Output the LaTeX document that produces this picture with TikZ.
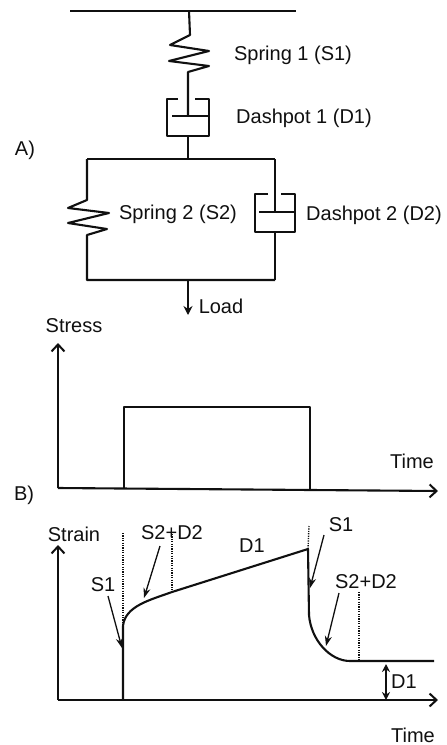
\documentclass[tikz,border=0pt]{standalone}
\usepackage{fontspec}
\setmainfont{Liberation Sans}
\usetikzlibrary{arrows.meta}
\definecolor{ink}{HTML}{101010}
\tikzset{
  lab/.style={text=ink,inner sep=0pt,font=\fontsize{20}{22}\selectfont},
  line/.style={draw=ink,line width=2.1pt,line join=round},
  thin line/.style={draw=ink,line width=1.3pt},
  axis/.style={line,-{Straight Barb[length=7pt,width=13pt,line width=2pt]}},
  pointer/.style={thin line,-{Stealth[length=10pt,width=7pt]}},
  guide/.style={draw=ink,line width=1.4pt,dash pattern=on 1.2pt off 1.2pt},
  every picture/.style={x=1pt,y=-1pt}
}
\begin{document}
\begin{tikzpicture}
\useasboundingbox (0,0) rectangle (447,745);
\fill[white] (0,0) rectangle (447,745);
% labels
\node[lab] (ls1) at (293,55) {Spring 1 (S1)};
\node[lab] (ld1) at (304,118) {Dashpot 1 (D1)};
\node[lab] (ls2) at (178,214) {Spring 2 (S2)};
\node[lab] (ld2) at (374,215) {Dashpot 2 (D2)};
\node[lab] (la) at (25,150) {A)};
\node[lab] (lload) at (221,306) {Load};
\node[lab] (lstress) at (74,326) {Stress};
\node[lab] (ltime1) at (412,461) {Time};
\node[lab] (lb) at (24,495) {B)};
\node[lab] (lstrain) at (74,534) {Strain};
\node[lab] (s1a) at (103,585) {S1};
\node[lab] (sda) at (172,533) {S2+D2};
\node[lab] (d1a) at (252,546) {D1};
\node[lab] (s1b) at (341,525) {S1};
\node[lab] (sdb) at (366,582) {S2+D2};
\node[lab] (d1b) at (404,682) {D1};
\node[lab] (ltime2) at (413,735) {Time};
% mechanical model
\coordinate (barL) at (70,11); \coordinate (barR) at (296,11);
\coordinate (barM) at (189,11);
\coordinate (fL) at (87,159); \coordinate (fR) at (275,159); \coordinate (fM) at (188,159);
\coordinate (bL) at (87,280); \coordinate (bR) at (275,280); \coordinate (bM) at (188,280);
\coordinate (loadEnd) at (188,315);
\draw[line,line width=2.3pt] (barL) -- (barR);
\draw[line] (barM) -- (190,35) -- (170,45) -- (209,51) -- (169,61) -- (209,66) -- (188,72) -- (188,116);
\draw[line] (178,99) -- (167,99) -- (167,136) -- (209,136) -- (209,99) -- (195,99);
\draw[line] (172,116) -- (209,116);
\draw[line] (188,136) -- (fM);
\draw[line] (fL) -- (fR);
\draw[line] (fL) -- (87,200) -- (68,208) -- (109,213) -- (68,223) -- (107,229) -- (87,235) -- (bL) -- (bR);
\draw[line] (fR) -- (275,212);
\draw[line] (268,194) -- (255,194) -- (255,232) -- (295,232) -- (295,194) -- (281,194);
\draw[line] (259,212) -- (295,212);
\draw[line] (275,232) -- (bR);
\draw[line,-{Stealth[length=9pt,width=9pt]}] (bM) -- (loadEnd);
% stress plot
\coordinate (o1) at (58,488); \coordinate (y1) at (58,343); \coordinate (x1) at (438,491);
\coordinate (p1) at (124,488); \coordinate (p2) at (124,407); \coordinate (p3) at (310,407); \coordinate (p4) at (310,490);
\draw[axis] (o1) -- (y1);
\draw[axis] (o1) -- (x1);
\draw[line] (p1) -- (p2) -- (p3) -- (p4);
% strain plot
\coordinate (o2) at (58,700); \coordinate (y2) at (58,545); \coordinate (x2) at (438,700);
\coordinate (c0) at (123,700); \coordinate (c1) at (123,626); \coordinate (c2) at (172,592);
\coordinate (c3) at (308,549); \coordinate (c4) at (309,615); \coordinate (c5) at (359,661); \coordinate (c6) at (434,661);
\draw[axis] (o2) -- (y2);
\draw[axis] (o2) -- (x2);
\draw[line] (c0) -- (c1) .. controls (125,606) and (150,600) .. (c2) -- (c3) -- (c4) .. controls (311,640) and (330,661) .. (350,661) -- (c6);
\coordinate (g1) at (123,533); \coordinate (g2) at (172,534); \coordinate (g3) at (309,526); \coordinate (g4) at (359,592);
\draw[guide] (g1) -- (c1);
\draw[guide] (g2) -- (c2);
\draw[guide] (g3) -- (c3);
\draw[guide] (g4) -- (c5);
\coordinate (a1s) at (108,596); \coordinate (a1e) at (122,648);
\coordinate (a2s) at (160,546); \coordinate (a2e) at (144,598);
\coordinate (a3s) at (324,535); \coordinate (a3e) at (310,588);
\coordinate (a4s) at (339,593); \coordinate (a4e) at (326,646);
\draw[pointer] (a1s) -- (a1e);
\draw[pointer] (a2s) -- (a2e);
\draw[pointer] (a3s) -- (a3e);
\draw[pointer] (a4s) -- (a4e);
\coordinate (da) at (386,664); \coordinate (db) at (386,700);
\draw[thin line,line width=1.5pt,{Stealth[length=8pt,width=8pt]}-{Stealth[length=8pt,width=8pt]}] (da) -- (db);
\end{tikzpicture}
\end{document}
